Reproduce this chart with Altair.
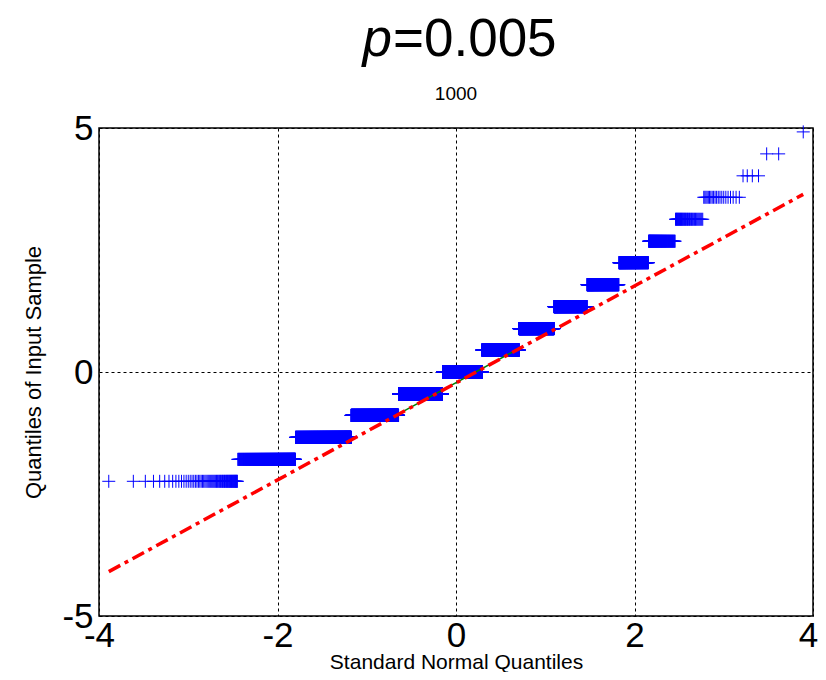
import altair as alt
import pandas as pd

# ---- data ----
# distinct sample levels (y) and how many of the 10000 samples sit on each level
levels = [-2.24, -1.79, -1.34, -0.89, -0.45, 0.0, 0.45, 0.89, 1.34, 1.79,
          2.24, 2.68, 3.13, 3.58, 4.02, 4.47, 4.92]
counts = [72, 288, 840, 1400, 1800, 1750, 1450, 1040, 650, 370,
          185, 85, 42, 21, 4, 2, 1]
n_total = sum(counts)

# reference line (dash-dot, red) and inter-quartile segment (green)
fit_x = [-3.89, 3.89]
fit_y = [-4.09, 3.64]
iqr_x = [-0.674, 0.674]
iqr_y = [-0.89, 0.45]

x_ticks = [-4, -2, 0, 2, 4]
y_ticks = [-5, 0, 5]

title_italic = ["p"]
title_rest = ["=0.005"]
subtitle = ["1000"]
x_title = "Standard Normal Quantiles"
y_title = "Quantiles of Input Sample"

FONT = "Liberation Sans"
W, H = 714, 488

xscale = alt.Scale(domain=[-4, 4], nice=False, zero=False)
yscale = alt.Scale(domain=[-5, 5], nice=False, zero=False)

label_expr = "datum.value < 0 ? '-' + abs(datum.value) : '' + datum.value"

xaxis = alt.Axis(values=x_ticks, title=x_title, grid=True, gridColor="black",
                 gridDash=[3, 3], gridWidth=1, gridOpacity=1, ticks=False, domain=False,
                 labelFont=FONT, labelFontSize=35, labelColor="black", labelPadding=2,
                 labelFlush=False, labelOverlap=False, labelExpr=label_expr,
                 labelOffset={"condition": {"test": "datum.value == 4", "value": -5},
                              "value": 0},
                 titleFont=FONT, titleFontSize=21, titleFontWeight="normal",
                 titleColor="black", titleX=W / 2, titleY=52,
                 titleBaseline="alphabetic", titleAlign="center")
yaxis = alt.Axis(values=y_ticks, title=y_title, grid=True, gridColor="black",
                 gridDash=[3, 3], gridWidth=1, gridOpacity=1, ticks=False, domain=False,
                 labelFont=FONT, labelFontSize=35, labelColor="black", labelPadding=6,
                 labelFlush=False, labelOverlap=False, labelExpr=label_expr,
                 titleFont=FONT, titleFontSize=22, titleFontWeight="normal",
                 titleColor="black", titleX=-66, titleY=H / 2, titleAngle=-90,
                 titleBaseline="middle", titleAlign="center")

df = pd.DataFrame({"level": levels, "count": counts})

points = (
    alt.Chart(df)
    .transform_calculate(idx="sequence(0, datum.count)")
    .transform_flatten(["idx"])
    .transform_window(rank="row_number()",
                      sort=[alt.SortField("level"), alt.SortField("idx")])
    .transform_calculate(q=f"quantileNormal((datum.rank - 0.5) / {n_total})")
    .mark_point(shape="M-1,0L1,0M0,-1L0,1", size=169, filled=False,
                color="#0000ff", strokeWidth=1, opacity=1)
    .encode(x=alt.X("q:Q", scale=xscale, axis=xaxis),
            y=alt.Y("level:Q", scale=yscale, axis=yaxis))
)

iqr = (
    alt.Chart(pd.DataFrame({"x": iqr_x, "y": iqr_y}))
    .mark_line(color="#008000", strokeWidth=1.5)
    .encode(x=alt.X("x:Q", scale=xscale, axis=xaxis),
            y=alt.Y("y:Q", scale=yscale, axis=yaxis))
)

fit = (
    alt.Chart(pd.DataFrame({"x": fit_x, "y": fit_y}))
    .mark_line(color="#ff0000", strokeWidth=3.5, strokeDash=[13, 5, 4, 5])
    .encode(x=alt.X("x:Q", scale=xscale, axis=xaxis),
            y=alt.Y("y:Q", scale=yscale, axis=yaxis))
)

t1 = (
    alt.Chart(pd.DataFrame({"t": title_italic}))
    .mark_text(font=FONT, fontSize=53, fontStyle="italic", align="right",
               baseline="alphabetic", color="black")
    .encode(text="t:N", x=alt.value(293), y=alt.value(-72))
)
t2 = (
    alt.Chart(pd.DataFrame({"t": title_rest}))
    .mark_text(font=FONT, fontSize=53, align="left",
               baseline="alphabetic", color="black")
    .encode(text="t:N", x=alt.value(294), y=alt.value(-72))
)
t3 = (
    alt.Chart(pd.DataFrame({"t": subtitle}))
    .mark_text(font=FONT, fontSize=19, align="center",
               baseline="alphabetic", color="black")
    .encode(text="t:N", x=alt.value(W / 2), y=alt.value(-28))
)

chart = (
    alt.layer(points, iqr, fit, t1, t2, t3)
    .properties(width=W, height=H,
                padding={"left": 91, "top": 120, "right": 5, "bottom": 56},
                autosize=alt.AutoSizeParams(type="none"))
    .configure(background="white")
    .configure_view(stroke="black", strokeWidth=1.5)
)

chart.save("out.html", embed_options={"renderer": "svg", "actions": False})
